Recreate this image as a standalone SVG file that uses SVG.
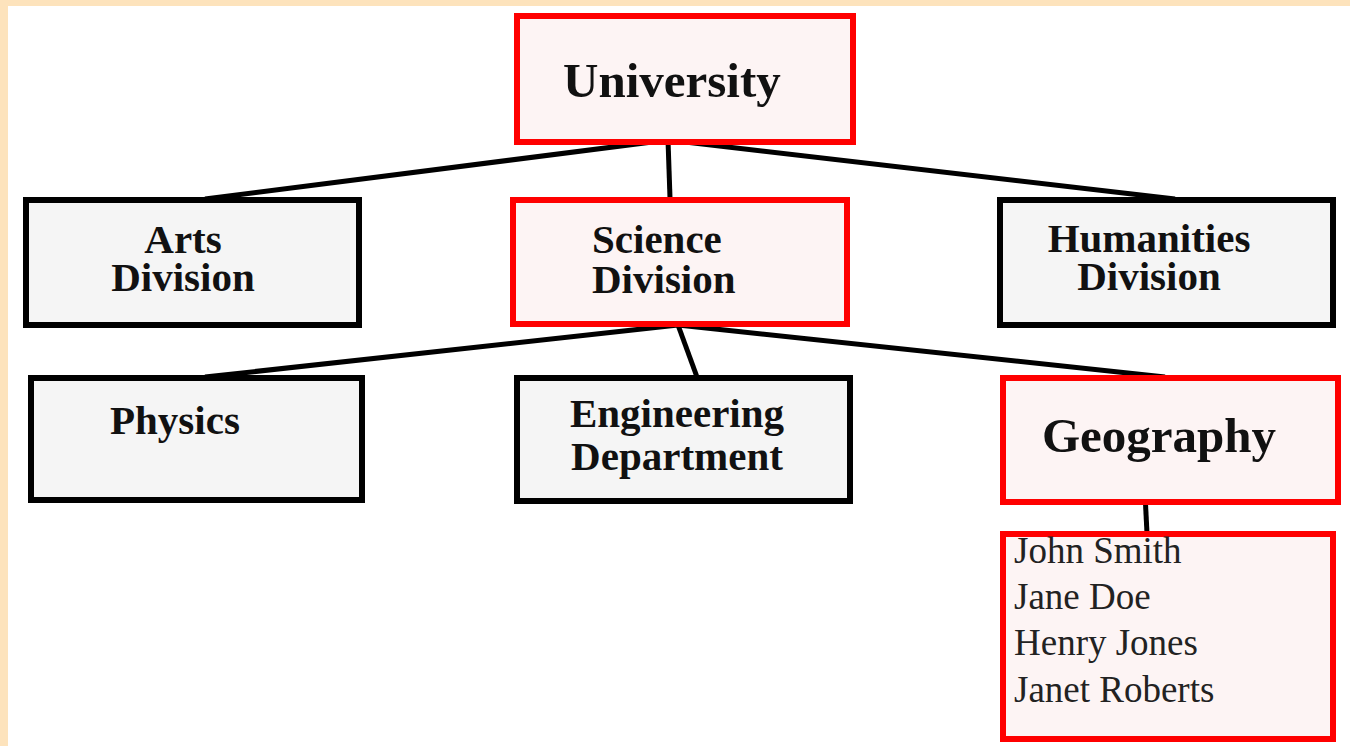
<svg xmlns="http://www.w3.org/2000/svg" width="1350" height="746" viewBox="0 0 1350 746">
<style>
.red{fill:#fdf4f4;stroke:#ff0000;stroke-width:6}
.blk{fill:#f5f5f5;stroke:#000;stroke-width:6}
.b{font-family:"Liberation Serif",serif;font-weight:bold;font-size:41px;fill:#111}
.big{font-size:49px}
.r{font-family:"Liberation Serif",serif;font-size:37px;fill:#222}
.c{text-anchor:middle}
.conn line{stroke:#000;stroke-width:5}
</style>
<rect x="0" y="0" width="1350" height="746" fill="#fde3bc"/>
<rect x="8" y="6" width="1342" height="740" fill="#ffffff"/>
<g class="conn" id="connectors">
<line x1="668" y1="140" x2="205" y2="199"/>
<line x1="668" y1="140" x2="670" y2="198"/>
<line x1="668" y1="140" x2="1175" y2="199"/>
<line x1="678" y1="325" x2="205" y2="377"/>
<line x1="678" y1="325" x2="697" y2="377"/>
<line x1="678" y1="325" x2="1165" y2="377"/>
<line x1="1145" y1="494" x2="1147" y2="533"/>
</g>
<g id="university">
<rect class="red" x="517" y="16" width="336" height="126"/>
<text class="b big" x="563" y="97">University</text>
</g>
<g id="arts">
<rect class="blk" x="26" y="200" width="333" height="125"/>
<text class="b c" x="183" y="253">Arts</text>
<text class="b c" x="183" y="291">Division</text>
</g>
<g id="science">
<rect class="red" x="513" y="200" width="334" height="124"/>
<text class="b" x="592" y="253">Science</text>
<text class="b" x="592" y="293">Division</text>
</g>
<g id="humanities">
<rect class="blk" x="1000" y="200" width="333" height="125"/>
<text class="b c" x="1149" y="252">Humanities</text>
<text class="b c" x="1149" y="290">Division</text>
</g>
<g id="physics">
<rect class="blk" x="31" y="378" width="331" height="122"/>
<text class="b" x="110" y="434">Physics</text>
</g>
<g id="engineering">
<rect class="blk" x="517" y="378" width="333" height="123"/>
<text class="b c" x="677" y="427">Engineering</text>
<text class="b c" x="677" y="470">Department</text>
</g>
<g id="geography">
<rect class="red" x="1003" y="378" width="335" height="124"/>
<text class="b big" x="1042" y="452">Geography</text>
</g>
<g id="members">
<rect class="red" x="1003" y="534" width="330" height="205"/>
<text class="r" x="1014" y="563">John Smith</text>
<text class="r" x="1014" y="609">Jane Doe</text>
<text class="r" x="1014" y="655">Henry Jones</text>
<text class="r" x="1014" y="702">Janet Roberts</text>
</g>
</svg>
